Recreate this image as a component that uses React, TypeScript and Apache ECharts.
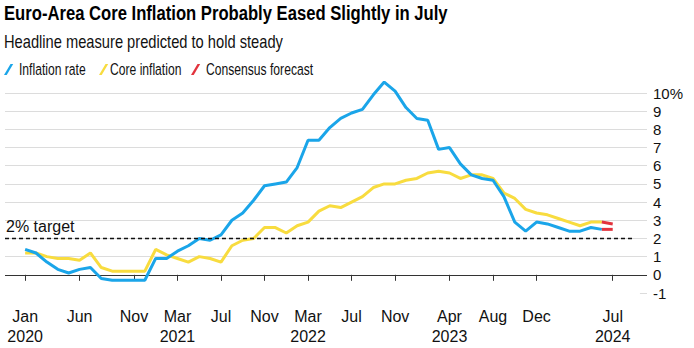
import React, { useEffect, useRef } from 'react';
import * as echarts from 'echarts';

// Month abbreviations and first year of the series
const monthNames = ['Jan', 'Feb', 'Mar', 'Apr', 'May', 'Jun', 'Jul', 'Aug', 'Sep', 'Oct', 'Nov', 'Dec'];
const startYear = 2020;

// Headline inflation, Jan 2020 – Jun 2024 (% y/y)
const inflationRate = [
  1.4, 1.2, 0.7, 0.3, 0.1, 0.3, 0.4, -0.2, -0.3, -0.3, -0.3, -0.3,
  0.9, 0.9, 1.3, 1.6, 2.0, 1.9, 2.2, 3.0, 3.4, 4.1, 4.9, 5.0,
  5.1, 5.9, 7.4, 7.4, 8.1, 8.6, 8.9, 9.1, 9.9, 10.6, 10.1, 9.2,
  8.6, 8.5, 6.9, 7.0, 6.1, 5.5, 5.3, 5.2, 4.3, 2.9, 2.4, 2.9,
  2.8, 2.6, 2.4, 2.4, 2.6, 2.5,
];

// Core inflation, Jan 2020 – Jun 2024 (% y/y)
const coreInflation = [
  1.2, 1.2, 1.0, 0.9, 0.9, 0.8, 1.2, 0.4, 0.2, 0.2, 0.2, 0.2,
  1.4, 1.1, 0.9, 0.7, 1.0, 0.9, 0.7, 1.6, 1.9, 2.0, 2.6, 2.6,
  2.3, 2.7, 2.9, 3.5, 3.8, 3.7, 4.0, 4.3, 4.8, 5.0, 5.0, 5.2,
  5.3, 5.6, 5.7, 5.6, 5.3, 5.5, 5.5, 5.3, 4.5, 4.2, 3.6, 3.4,
  3.3, 3.1, 2.9, 2.7, 2.9, 2.9,
];

// Consensus forecasts for Jul 2024
const inflationForecast = 2.5;
const coreForecast = 2.8;

// ECB target
const targetValue = 2;
const targetLabel = '2% target';

// Month indices (0 = Jan 2020) where x-axis labels are shown
const tickMonths = [0, 5, 10, 14, 18, 22, 26, 30, 34, 39, 43, 47, 54];

const title = 'Euro-Area Core Inflation Probably Eased Slightly in July';
const subtitle = 'Headline measure predicted to hold steady';
const legendNames = ['Inflation rate', 'Core inflation', 'Consensus forecast'];

const BLUE = '#1aa5e9';
const YELLOW = '#f8dc3f';
const RED = '#e2333d';
const REG = "'Liberation Sans', Arial, sans-serif";

const X_MIN = -1.85;
const X_MAX = 57.15;

function monthLabel(idx: number): string {
  const m = monthNames[((idx % 12) + 12) % 12];
  const y = startYear + Math.floor(idx / 12);
  const pos = tickMonths.indexOf(idx);
  const prev = pos > 0 ? tickMonths[pos - 1] : null;
  const showYear = prev === null || startYear + Math.floor(prev / 12) !== y;
  return showYear ? `${m}\n${y}` : m;
}

export default function App() {
  const ref = useRef<HTMLDivElement>(null);

  useEffect(() => {
    document.body.style.margin = '0';
    if (!ref.current) return;
    const chart = echarts.init(ref.current, undefined, { renderer: 'svg' });

    const last = inflationRate.length - 1;
    const inflData = inflationRate.map((v, i) => [i, v]);
    const coreData = coreInflation.map((v, i) => [i, v]);

    const gridColors = ['rgba(0,0,0,0)', '#333333'];
    for (let i = 0; i < 10; i++) gridColors.push('#dcdcdc');

    // Legend drawn as graphics so the text can be condensed
    const legendColors = [BLUE, YELLOW, RED];
    const legendIconX = [4, 99, 191];
    const legendTextX = [19, 110, 206];
    const legendEls: any[] = [];
    legendNames.forEach((name, i) => {
      const x0 = legendIconX[i];
      legendEls.push({
        type: 'polygon',
        shape: { points: [[x0, 75], [x0 + 2.7, 75], [x0 + 9.2, 64], [x0 + 6.5, 64]] },
        style: { fill: legendColors[i] },
        silent: true,
      });
      legendEls.push({
        type: 'text',
        x: legendTextX[i],
        y: 69.5,
        scaleX: 0.735,
        style: {
          text: name,
          font: `16.5px ${REG}`,
          fill: '#111',
          textVerticalAlign: 'middle',
          textAlign: 'left',
        },
        silent: true,
      });
    });

    chart.setOption({
      animation: false,
      backgroundColor: '#ffffff',
      graphic: [
        {
          type: 'text',
          x: 4,
          y: 12.8,
          scaleX: 0.812,
          style: {
            text: title,
            font: `bold 20.5px ${REG}`,
            fill: '#000',
            textVerticalAlign: 'middle',
            textAlign: 'left',
          },
          silent: true,
        },
        {
          type: 'text',
          x: 4,
          y: 41.8,
          scaleX: 0.816,
          style: {
            text: subtitle,
            font: `18px ${REG}`,
            fill: '#111',
            textVerticalAlign: 'middle',
            textAlign: 'left',
          },
          silent: true,
        },
        ...legendEls,
      ],
      grid: { left: 5, right: 47, top: 93, bottom: 55, containLabel: false },
      xAxis: {
        type: 'value',
        min: X_MIN,
        max: X_MAX,
        axisLine: { show: false },
        splitLine: { show: false },
        axisTick: {
          show: true,
          length: 6,
          customValues: tickMonths,
          lineStyle: { color: '#333', width: 1 },
        },
        axisLabel: {
          customValues: tickMonths,
          formatter: (v: number) => monthLabel(Math.round(v)),
          fontFamily: REG,
          fontSize: 16,
          color: '#111',
          lineHeight: 20,
          margin: 13,
        },
      },
      yAxis: {
        type: 'value',
        position: 'right',
        min: -1,
        max: 10,
        interval: 1,
        axisLine: { show: false },
        axisTick: { show: false },
        splitLine: { show: true, lineStyle: { color: gridColors, width: 1 } },
        axisLabel: {
          fontFamily: REG,
          fontSize: 15,
          color: '#111',
          margin: 6,
          formatter: (v: number) => (v === 10 ? '10%' : String(v)),
        },
      },
      series: [
        {
          name: 'Core inflation',
          type: 'line',
          data: coreData,
          symbol: 'none',
          clip: false,
          color: YELLOW,
          lineStyle: { color: YELLOW, width: 3 },
          z: 2,
          markLine: {
            silent: true,
            symbol: ['none', 'none'],
            lineStyle: { color: '#dcdcdc', type: 'solid', width: 1 },
            label: { show: false },
            data: [[{ coord: [56.5, -1] }, { coord: [X_MAX, -1] }]],
          },
        },
        {
          name: 'Inflation rate',
          type: 'line',
          data: inflData,
          symbol: 'none',
          clip: false,
          color: BLUE,
          lineStyle: { color: BLUE, width: 3 },
          z: 3,
          markLine: {
            silent: true,
            symbol: ['none', 'none'],
            lineStyle: { color: '#111', type: [4, 3], width: 1.3 },
            label: {
              show: true,
              position: 'insideStartTop',
              formatter: targetLabel,
              fontFamily: REG,
              fontSize: 16,
              color: '#111',
              distance: [1, 4],
            },
            data: [[{ coord: [X_MIN, targetValue] }, { coord: [55.9, targetValue] }]],
          },
        },
        {
          name: 'Consensus forecast',
          type: 'line',
          data: [[last, inflationRate[last]], [last + 1, inflationForecast]],
          symbol: 'none',
          clip: false,
          color: RED,
          lineStyle: { color: RED, width: 3 },
          z: 4,
        },
        {
          name: 'Consensus forecast',
          type: 'line',
          data: [[last, coreInflation[last]], [last + 1, coreForecast]],
          symbol: 'none',
          clip: false,
          color: RED,
          lineStyle: { color: RED, width: 3 },
          z: 4,
        },
      ],
    });

    return () => chart.dispose();
  }, []);

  return <div ref={ref} style={{ width: 694, height: 348 }} />;
}
